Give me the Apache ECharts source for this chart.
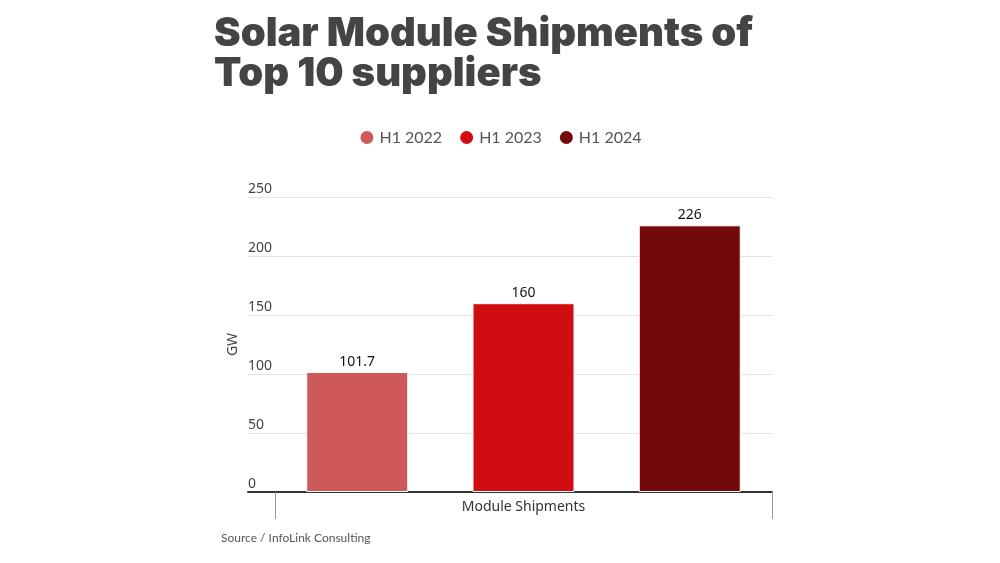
<!DOCTYPE html>
<html>
<head>
<meta charset="utf-8">
<script src="https://cdn.jsdelivr.net/npm/echarts@6/dist/echarts.min.js"></script>
<style>html,body{margin:0;padding:0;background:#fff}#c{width:1000px;height:563px}</style>
</head>
<body>
<div id="c"></div>
<script>
const categories = ['Module Shipments'];
const seriesNames = ['H1 2022', 'H1 2023', 'H1 2024'];
const seriesValues = [[101.7], [160], [226]];
const colors = ['#cd5958', '#d00e12', '#730a0a'];
const yTicks = { min: 0, max: 250, interval: 50 };

const chart = echarts.init(document.getElementById('c'));
const axisFont = 'Noto Sans';
chart.setOption({
  animation: false,
  title: [{
    text: 'Solar Module Shipments of\nTop 10 suppliers',
    left: 209, top: 9,
    textStyle: { fontFamily: 'Inter', fontWeight: 900, fontSize: 40, lineHeight: 40, color: '#444' }
  }, {
    text: 'Source / InfoLink Consulting',
    left: 216, top: 527,
    textStyle: { fontFamily: 'Lato', fontWeight: 'normal', fontSize: 12, color: '#555' }
  }],
  legend: {
    top: 124, left: 'center',
    icon: 'circle', itemWidth: 15, itemHeight: 15, itemGap: 16,
    textStyle: { fontFamily: 'Lato', fontSize: 16, color: '#555' },
    data: seriesNames
  },
  grid: [
    { left: 275, right: 228, top: 197, bottom: 71 },
    { left: 248, width: 27, top: 197, bottom: 71 }
  ],
  xAxis: [{
    type: 'category', gridIndex: 0, data: categories,
    axisLine: { lineStyle: { color: '#333', width: 2 } },
    axisTick: { show: true, interval: 0, alignWithLabel: false, length: 27, lineStyle: { color: '#999' } },
    axisLabel: { margin: 8, fontFamily: axisFont, fontSize: 14, color: '#333' }
  }, {
    type: 'value', gridIndex: 1, min: 0, max: 1,
    axisLine: { show: true, onZero: false, lineStyle: { color: '#333', width: 2 } },
    axisTick: { show: false }, axisLabel: { show: false }, splitLine: { show: false }
  }],
  yAxis: [{
    type: 'value', gridIndex: 0, min: yTicks.min, max: yTicks.max, interval: yTicks.interval,
    axisLabel: { show: false }, axisLine: { show: false }, axisTick: { show: false },
    splitLine: { lineStyle: { color: '#e3e3e3' } }
  }, {
    type: 'value', gridIndex: 1, min: yTicks.min, max: yTicks.max, interval: yTicks.interval,
    name: 'GW', nameLocation: 'middle', nameGap: 8, nameRotate: 90,
    nameTextStyle: { fontFamily: axisFont, fontSize: 14, color: '#444' },
    axisLine: { show: false }, axisTick: { show: false },
    axisLabel: { inside: true, margin: 0, align: 'left', verticalAlign: 'bottom', padding: [0, 0, 1, 0],
      fontFamily: axisFont, fontSize: 14, color: '#444' },
    splitLine: { lineStyle: { color: '#e3e3e3' } }
  }],
  series: seriesNames.map((n, i) => ({
    name: n, type: 'bar', xAxisIndex: 0, yAxisIndex: 0,
    data: seriesValues[i], barWidth: 102, barGap: '63%',
    itemStyle: { color: colors[i], borderColor: '#fff', borderWidth: 1 },
    label: { show: true, position: 'top', distance: 3, fontFamily: axisFont, fontSize: 14, color: '#111' }
  }))
});
</script>
</body>
</html>
